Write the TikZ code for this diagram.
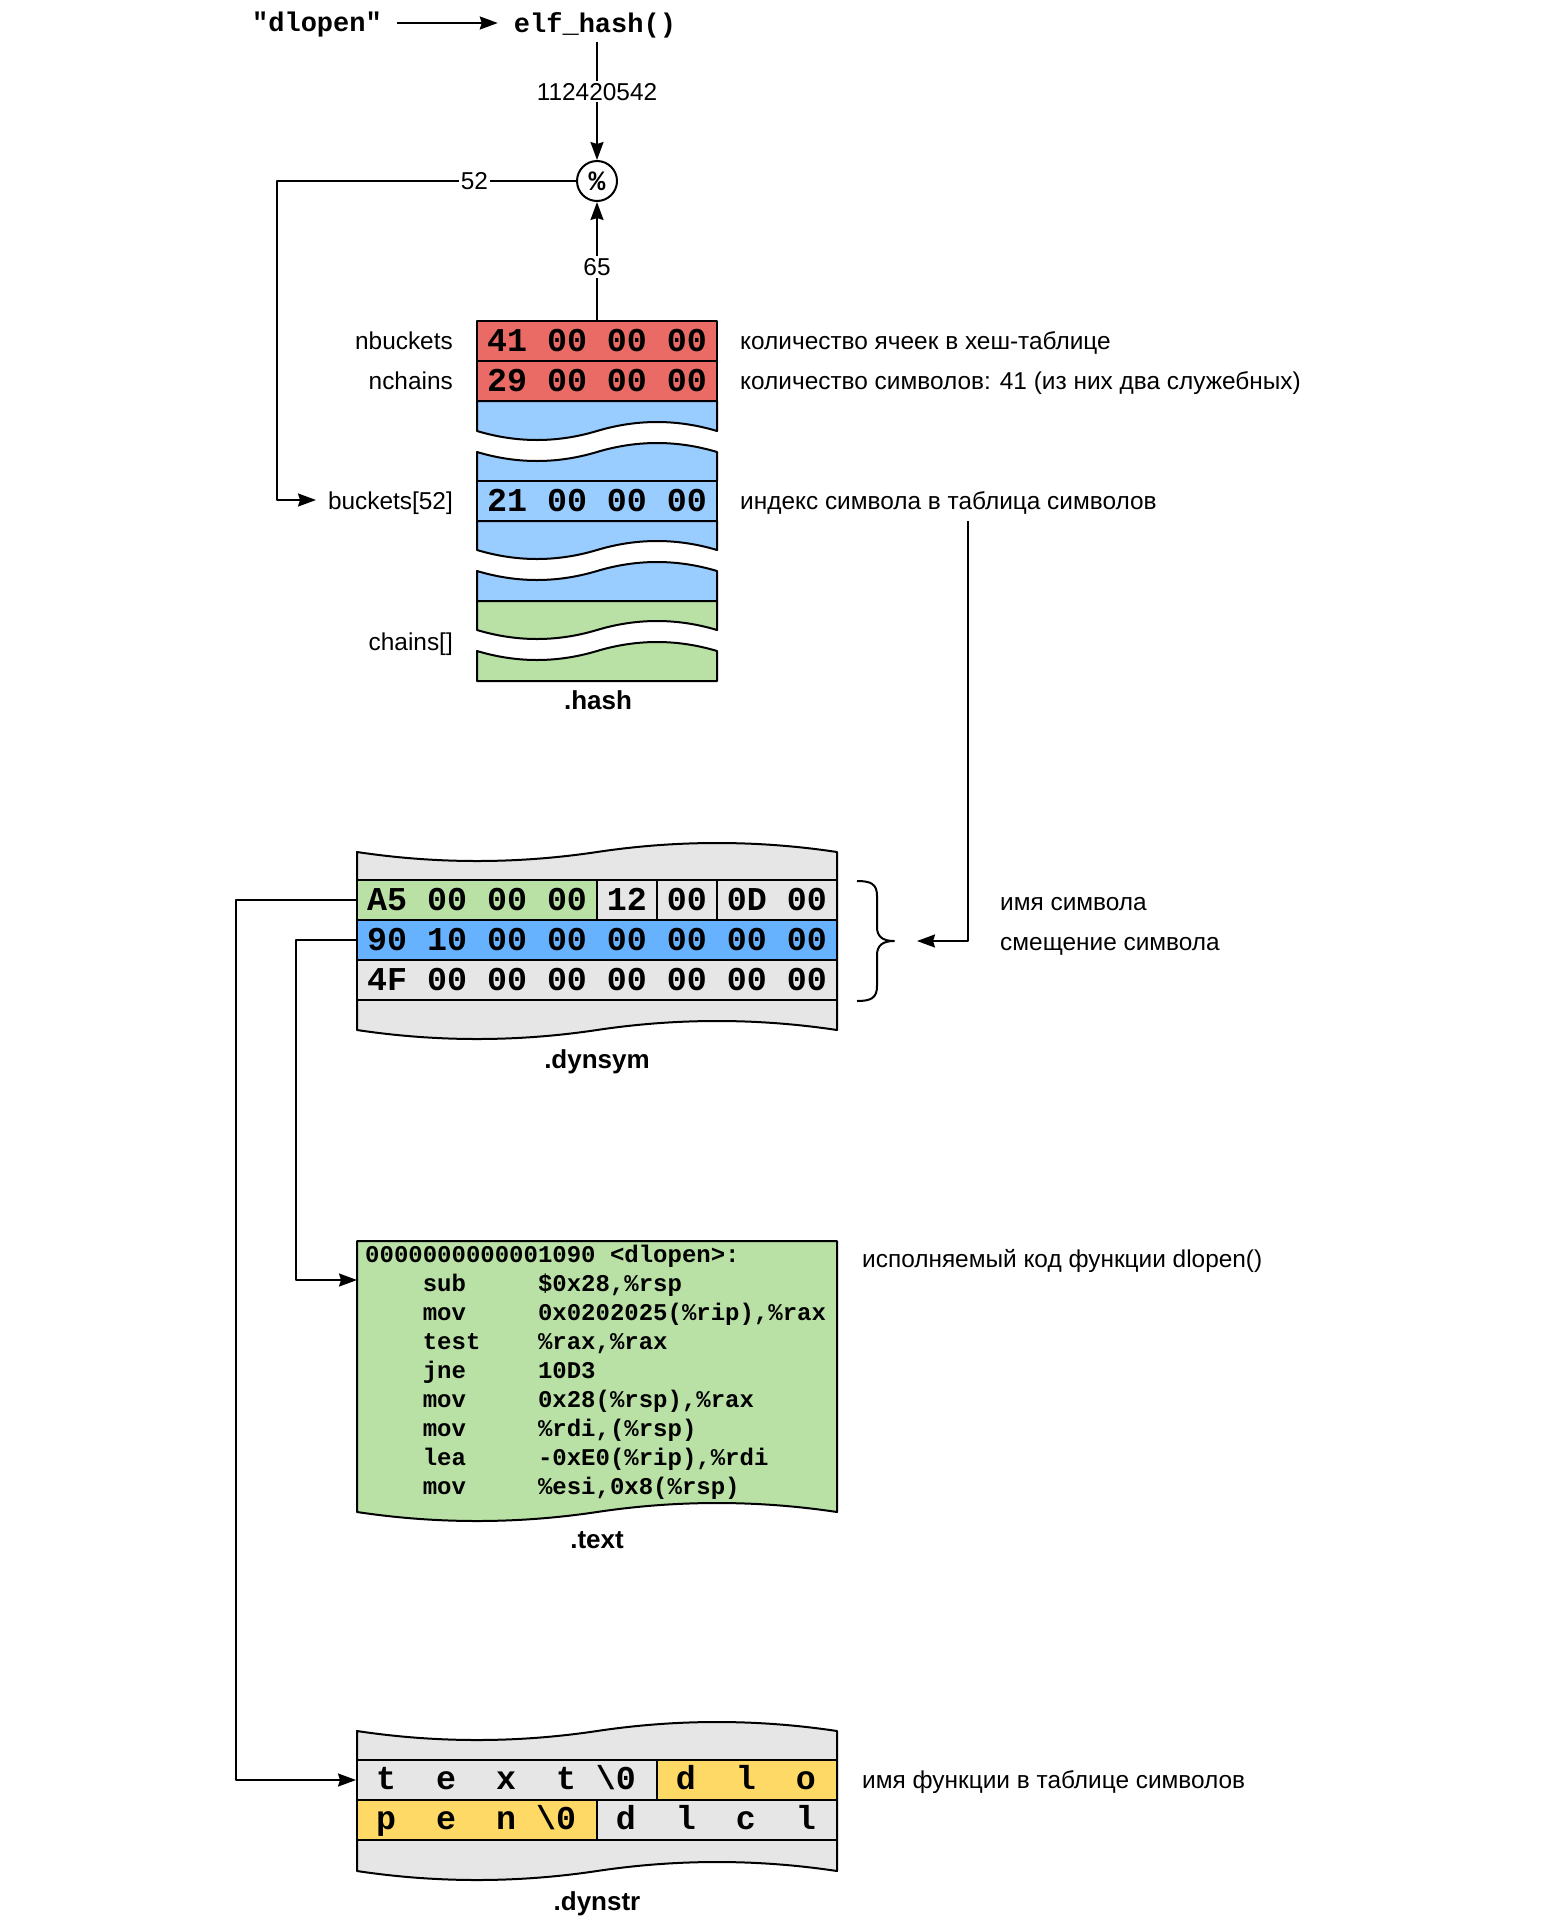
\documentclass[tikz,border=0pt]{standalone}
\usepackage{fontspec}
\setmainfont{Liberation Sans}
\newfontfamily\mono{Liberation Mono}
\usetikzlibrary{arrows.meta}
\definecolor{cred}{HTML}{EA6B66}
\definecolor{clblue}{HTML}{99CCFF}
\definecolor{cblue}{HTML}{66B2FF}
\definecolor{cgreen}{HTML}{B9E0A5}
\definecolor{cgray}{HTML}{E6E6E6}
\definecolor{cyel}{HTML}{FFD966}
\newcommand\s{\hphantom{0}}
% forward wave from (#1,#3) to (#2,#3)
\newcommand\wvf[3]{.. controls ({#1+(#2-#1)/6},{#3+12}) and ({#1+(#2-#1)/3},{#3+12}) .. ({(#1+#2)/2},#3) .. controls ({#1+2*(#2-#1)/3},{#3-12}) and ({#1+5*(#2-#1)/6},{#3-12}) .. (#2,#3)}
% reverse wave from (#2,#3) to (#1,#3)
\newcommand\wvr[3]{.. controls ({#1+5*(#2-#1)/6},{#3-12}) and ({#1+2*(#2-#1)/3},{#3-12}) .. ({(#1+#2)/2},#3) .. controls ({#1+(#2-#1)/3},{#3+12}) and ({#1+(#2-#1)/6},{#3+12}) .. (#1,#3)}
\tikzset{
  lab/.style={font=\fontsize{24.4}{28}\selectfont, inner sep=0pt},
  ttl/.style={font=\bfseries\fontsize{26}{30}\selectfont, inner sep=0pt},
  hexf/.style={font=\mono\bfseries\fontsize{33.3}{38}\selectfont},
  codef/.style={font=\mono\bfseries\fontsize{24}{28}\selectfont, inner sep=0pt, anchor=mid west},
  strf/.style={font=\mono\bfseries\fontsize{33.3}{38}\selectfont, inner sep=0pt, anchor=mid west},
  box/.style={draw, line width=2pt},
  cell/.style={box, inner sep=0pt, minimum height=40pt},
  conn/.style={line width=2pt},
  arr/.style={conn, -{Stealth[length=18pt,width=13pt,inset=2pt]}},
  elab/.style={lab, fill=white, inner sep=2pt},
}
\begin{document}
\begin{tikzpicture}[x=1pt,y=-1pt,line join=round]
\useasboundingbox (0,0) rectangle (1560,1922);

% ---------- top: hash computation ----------
\node[font=\mono\bfseries\fontsize{27}{30}\selectfont, inner sep=0pt] (dl) at (317,25) {"dlopen"};
\node[font=\mono\bfseries\fontsize{27}{30}\selectfont, inner sep=0pt] (eh) at (595,25) {elf\_hash()};
\draw[arr] ([xshift=15pt,yshift=2pt]dl.east) -- ([xshift=-16pt,yshift=2pt]eh.west);

\node[draw, circle, line width=2pt, minimum size=40pt, inner sep=0pt,
      font=\mono\bfseries\fontsize{28}{30}\selectfont] (pct) at (597,181) {\%};
\draw[arr, shorten <=4pt] (eh.south -| pct.north) -- node[elab, pos=.44] (hv) {112420542} (pct.north);

% ---------- .hash ----------
\draw[box, fill=clblue] (477,401) -- (717,401) -- (717,431) \wvr{477}{717}{431} -- cycle;
\draw[box, fill=clblue] (477,452) \wvf{477}{717}{452} -- (717,481) -- (477,481) -- cycle;
\draw[box, fill=clblue] (477,521) -- (717,521) -- (717,550) \wvr{477}{717}{550} -- cycle;
\draw[box, fill=clblue] (477,571) \wvf{477}{717}{571} -- (717,601) -- (477,601) -- cycle;
\draw[box, fill=cgreen] (477,601) -- (717,601) -- (717,630) \wvr{477}{717}{630} -- cycle;
\draw[box, fill=cgreen] (477,651) \wvf{477}{717}{651} -- (717,681) -- (477,681) -- cycle;

\node[cell, hexf, fill=cred, minimum width=240pt] (r1) at (597,341) {41\s00\s00\s00};
\node[cell, hexf, fill=cred, minimum width=240pt] (r2) at (597,381) {29\s00\s00\s00};
\node[cell, hexf, fill=clblue, minimum width=240pt] (bk) at (597,501) {21\s00\s00\s00};

\node[lab, anchor=mid east] (nb) at (453,347) {nbuckets};
\node[lab, anchor=mid east] (nc) at (453,387) {nchains};
\node[lab, anchor=mid east] (b52) at (453,507) {buckets[52]};
\node[lab, anchor=mid east] (ch) at (453,648) {chains[]};
\node[ttl] (th) at (598,700) {.hash};

\node[lab, anchor=mid west] (t1) at (740,347) {количество ячеек в хеш-таблице};
\node[lab, anchor=mid west] (t2) at (740,387) {количество символов: 41 (из них два служебных)};
\node[lab, anchor=mid west] (idx) at (740,507) {индекс символа в таблица символов};

\draw[arr] (r1.north) -- node[elab, pos=.45] (hv2) {65} (pct.south);
\coordinate (k1) at (277,181);
\coordinate (k2) at (316,500);
\draw[arr] (pct.west) -- node[elab, pos=.34] (hv3) {52} (k1) |- (k2);

% ---------- .dynsym ----------
\draw[box, fill=cgray] (357,852) \wvf{357}{837}{852} -- (837,1030) \wvr{357}{837}{1030} -- cycle;
\node[cell, fill=cgray, minimum width=480pt] (ds1) at (597,900) {};
\node[cell, fill=cgreen, minimum width=240pt] (g1) at (477,900) {};
\node[cell, fill=cgray, minimum width=60pt] (g2) at (627,900) {};
\node[cell, fill=cgray, minimum width=60pt] (g3) at (687,900) {};
\node[cell, fill=cgray, minimum width=120pt] (g4) at (777,900) {};
\node[hexf, inner sep=0pt] (ds1t) at (597,900) {A5\s00\s00\s00\s12\s00\s0D\s00};
\node[cell, hexf, fill=cblue, minimum width=480pt] (ds2) at (597,940) {90\s10\s00\s00\s00\s00\s00\s00};
\node[cell, hexf, fill=cgray, minimum width=480pt] (ds3) at (597,980) {4F\s00\s00\s00\s00\s00\s00\s00};
\node[ttl] (tds) at (597,1062) {.dynsym};

% brace
\draw[conn] (857,881) .. controls (871,881) and (877,884) .. (877,896) -- (877,927)
  .. controls (877,936) and (882,941) .. (894,941)
  .. controls (882,941) and (877,946) .. (877,955) -- (877,986)
  .. controls (877,998) and (871,1001) .. (857,1001);
\coordinate (bt) at (917,941);
\node[lab, anchor=mid west] (nm) at (1000,908) {имя символа};
\node[lab, anchor=mid west] (of) at (1000,948) {смещение символа};
\coordinate (k3) at (968,521);
\draw[arr] (k3) |- (bt);

% ---------- .text ----------
\draw[box, fill=cgreen] (357,1241) -- (837,1241) -- (837,1512) \wvr{357}{837}{1512} -- cycle;
\node[inner sep=0pt, minimum width=480pt, minimum height=271pt] (tb) at (597,1376.5) {};
\node[codef] (l0) at (365,1260) {0000000000001090\s<dlopen>:};
\node[codef] (l1) at (365,1289) {\s\s\s\s sub\s\s\s\s\s\$0x28,\%rsp};
\node[codef] (l2) at (365,1318) {\s\s\s\s mov\s\s\s\s\s0x0202025(\%rip),\%rax};
\node[codef] (l3) at (365,1347) {\s\s\s\s test\s\s\s\s\%rax,\%rax};
\node[codef] (l4) at (365,1376) {\s\s\s\s jne\s\s\s\s\s10D3};
\node[codef] (l5) at (365,1405) {\s\s\s\s mov\s\s\s\s\s0x28(\%rsp),\%rax};
\node[codef] (l6) at (365,1434) {\s\s\s\s mov\s\s\s\s\s\%rdi,(\%rsp)};
\node[codef] (l7) at (365,1463) {\s\s\s\s lea\s\s\s\s\s-0xE0(\%rip),\%rdi};
\node[codef] (l8) at (365,1492) {\s\s\s\s mov\s\s\s\s\s\%esi,0x8(\%rsp)};
\node[ttl] (ttx) at (597,1540) {.text};
\node[lab, anchor=mid west] (tx1) at (862,1265) {исполняемый код функции dlopen()};
\coordinate (ta) at (357,1280);

% ---------- .dynstr ----------
\draw[box, fill=cgray] (357,1731) \wvf{357}{837}{1731} -- (837,1871) \wvr{357}{837}{1871} -- cycle;
\node[cell, fill=cgray, minimum width=480pt] (dr1) at (597,1780) {};
\node[cell, fill=cyel, minimum width=180pt] (y1) at (747,1780) {};
\node[cell, fill=cyel, minimum width=240pt] (y2) at (477,1820) {};
\node[cell, fill=cgray, minimum width=240pt] (dr2) at (717,1820) {};
\node[strf] (s1) at (376,1787) {t\s\s e\s\s x\s\s t\s\textbackslash 0\s\s d\s\s l\s\s o};
\node[strf] (s2) at (376,1827) {p\s\s e\s\s n\s\textbackslash 0\s\s d\s\s l\s\s c\s\s l};
\node[ttl] (tdr) at (597,1904) {.dynstr};
\node[lab, anchor=mid west] (tx2) at (862,1786) {имя функции в таблице символов};

% ---------- connectors from .dynsym ----------
\draw[arr] (ds1.west) -- ++(-120,0) |- (dr1.west);
\draw[arr] (ds2.west) -- ++(-60,0) |- (ta);
\end{tikzpicture}
\end{document}
